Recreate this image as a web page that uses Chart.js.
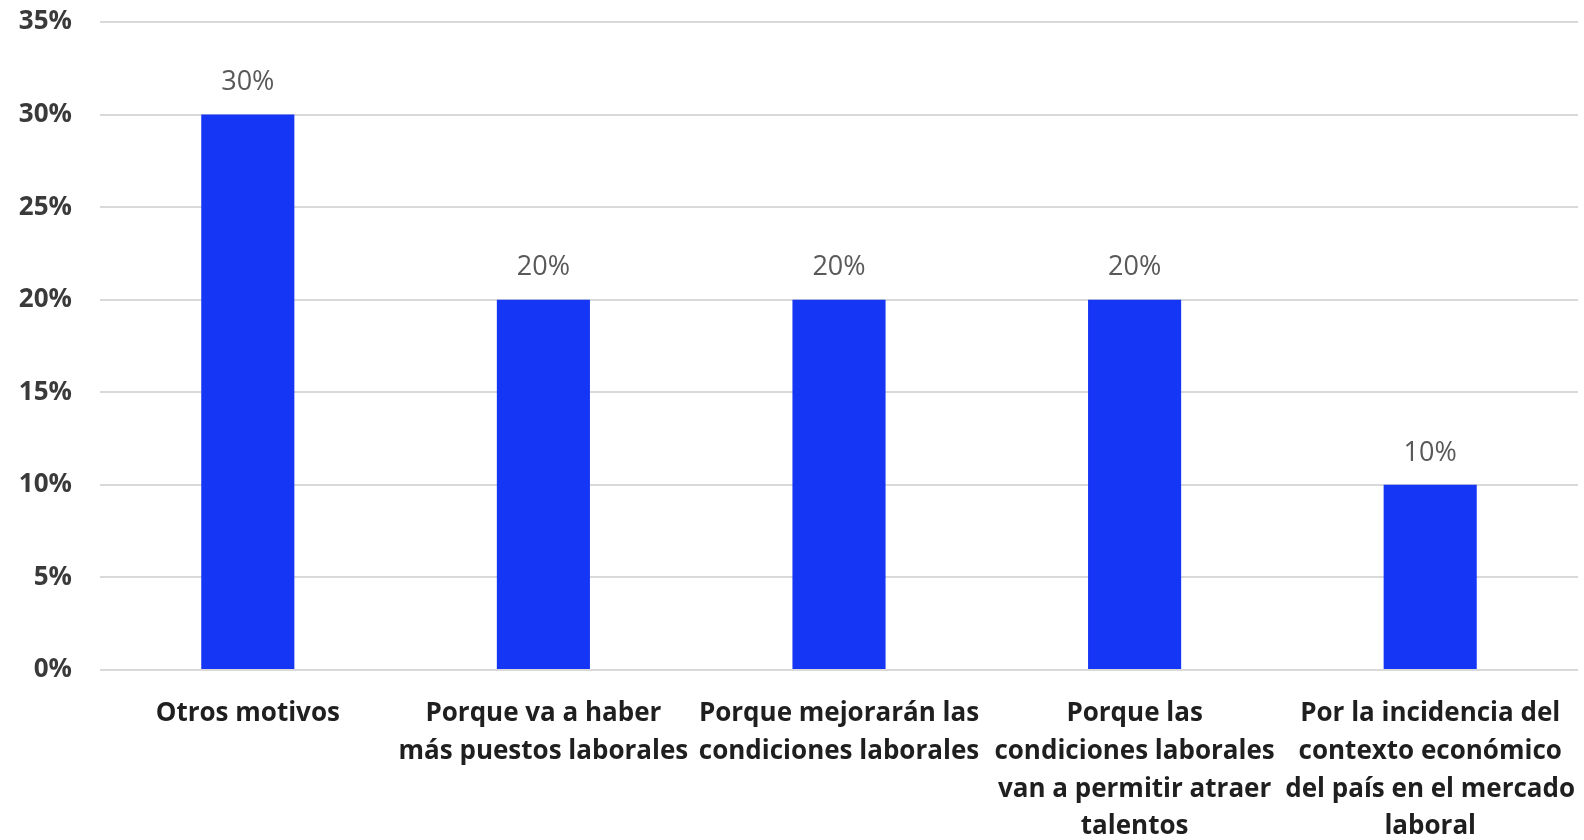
<!DOCTYPE html>
<html>
<head>
<meta charset="utf-8">
<script src="https://cdn.jsdelivr.net/npm/chart.js@4/dist/chart.umd.min.js"></script>
<style>
html,body{margin:0;padding:0;background:#fff;}
#wrap{width:1584px;height:840px;position:relative;}
</style>
</head>
<body>
<div id="wrap"><canvas id="c" width="1584" height="840"></canvas></div>
<script>
const categories = [
  ["Otros motivos"],
  ["Porque va a haber", "más puestos laborales"],
  ["Porque mejorarán las", "condiciones laborales"],
  ["Porque las", "condiciones laborales", "van a permitir atraer", "talentos"],
  ["Por la incidencia del", "contexto económico", "del país en el mercado", "laboral"]
];
const values = [30, 20, 20, 20, 10];
const yTicks = [0, 5, 10, 15, 20, 25, 30, 35];

const FONT = "'Open Sans', Lato, sans-serif";

const valueLabels = {
  id: 'valueLabels',
  afterDatasetsDraw(chart) {
    const ctx = chart.ctx;
    const meta = chart.getDatasetMeta(0);
    ctx.save();
    ctx.font = "27px " + FONT;
    ctx.fillStyle = '#595959';
    ctx.textAlign = 'center';
    ctx.textBaseline = 'middle';
    meta.data.forEach((bar, i) => {
      ctx.fillText(values[i] + '%', bar.x, bar.y - 32);
    });
    ctx.restore();
  }
};

new Chart(document.getElementById('c'), {
  type: 'bar',
  data: {
    labels: categories,
    datasets: [{
      data: values,
      backgroundColor: '#1537F5',
      borderWidth: 0,
      barPercentage: 0.63,
      categoryPercentage: 0.5
    }]
  },
  options: {
    responsive: false,
    animation: false,
    layout: { padding: { top: 22, right: 6, left: 0, bottom: 0 } },
    plugins: { legend: { display: false }, tooltip: { enabled: false } },
    scales: {
      x: {
        grid: { display: false },
        border: { display: false },
        ticks: {
          color: '#1f1f1f',
          font: { family: FONT, size: 26, weight: 'bold', lineHeight: 1.45 },
          maxRotation: 0,
          autoSkip: false,
          padding: 17
        },
        afterFit(s) { s.height = 170; s.paddingLeft = 0; s.paddingRight = 0; }
      },
      y: {
        min: 0,
        max: 35,
        afterBuildTicks(s) { s.ticks = yTicks.map(v => ({ value: v })); },
        grid: { color: '#d9d9d9', lineWidth: 2, drawTicks: false },
        border: { display: false },
        ticks: {
          color: '#3a3a3a',
          font: { family: FONT, size: 26, weight: 'bold' },
          padding: 28,
          callback: v => v + '%'
        },
        afterFit(s) { s.width = 100; s.paddingTop = 0; s.paddingBottom = 0; }
      }
    }
  },
  plugins: [valueLabels]
});
</script>
</body>
</html>
